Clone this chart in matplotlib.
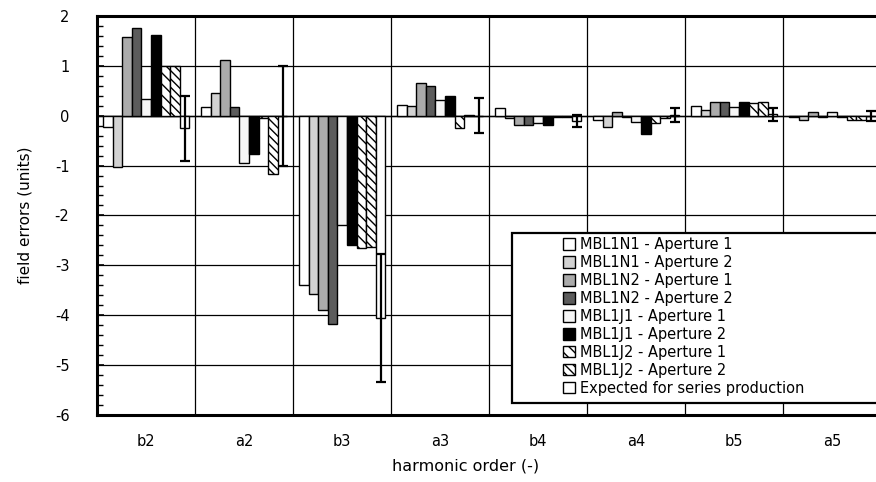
import numpy as np
import matplotlib
matplotlib.use("Agg")
import matplotlib.pyplot as plt
from matplotlib.patches import Rectangle

plt.rcParams['font.family'] = ['DejaVu Sans']
plt.rcParams['axes.unicode_minus'] = False

# harmonic orders on the x axis
orders = ['b2', 'a2', 'b3', 'a3', 'b4', 'a4', 'b5', 'a5']

# measured field errors (units), one list per magnet/aperture
n1_ap1 = [-0.23, 0.17, -3.40, 0.22, 0.16, -0.08, 0.20, -0.03]
n1_ap2 = [-1.03, 0.45, -3.57, 0.20, -0.04, -0.22, 0.12, -0.08]
n2_ap1 = [1.57, 1.12, -3.90, 0.66, -0.18, 0.07, 0.28, 0.07]
n2_ap2 = [1.75, 0.17, -4.17, 0.60, -0.18, -0.03, 0.28, -0.03]
j1_ap1 = [0.33, -0.95, -2.20, 0.32, -0.14, -0.12, 0.17, 0.08]
j1_ap2 = [1.62, -0.77, -2.60, 0.40, -0.18, -0.37, 0.28, -0.03]
j2_ap1 = [1.00, -0.05, -2.65, -0.25, -0.03, -0.15, 0.26, -0.08]
j2_ap2 = [1.00, -1.17, -2.63, 0.02, -0.03, -0.05, 0.27, -0.08]
expected = [-0.25, 0.00, -4.05, 0.00, -0.10, 0.02, 0.03, 0.00]
expected_err = [0.65, 1.00, 1.28, 0.35, 0.12, 0.14, 0.13, 0.10]

labels = ['MBL1N1 - Aperture 1', 'MBL1N1 - Aperture 2',
          'MBL1N2 - Aperture 1', 'MBL1N2 - Aperture 2',
          'MBL1J1 - Aperture 1', 'MBL1J1 - Aperture 2',
          'MBL1J2 - Aperture 1', 'MBL1J2 - Aperture 2',
          'Expected for series production']
series = [n1_ap1, n1_ap2, n2_ap1, n2_ap2, j1_ap1, j1_ap2, j2_ap1, j2_ap2, expected]
# (facecolor, hatch) per series
styles = [('white', None), ('#d2d2d2', None), ('#ababab', None),
          ('#5c5c5c', None), ('#f6f6f6', None), ('black', None),
          ('white', '\\\\\\'), ('white', '\\\\\\\\'), ('white', None)]

fig = plt.figure(figsize=(8.76, 4.82), dpi=100)
ax = fig.add_axes([0.111, 0.139, 0.895, 0.828])

x = np.arange(len(orders))
w = 0.098
handles = []
for i, (vals, (fc, ht)) in enumerate(zip(series, styles)):
    pos = x - 4 * w + i * w
    b = ax.bar(pos, vals, w, color=fc, edgecolor='black', hatch=ht,
               linewidth=1.0, zorder=3, label=labels[i])
    handles.append(b)
    if i == 8:
        ax.errorbar(pos, vals, yerr=expected_err, fmt='none', ecolor='black',
                    elinewidth=1.6, capsize=3.5, capthick=1.6, zorder=4)

ax.set_xlim(-0.5, 7.5)
ax.set_ylim(-6, 2)
ax.set_yticks(range(-6, 3))
ax.set_yticks(np.arange(-6, 2.01, 0.2), minor=True)
ax.set_xticks(x)
ax.set_xticklabels(orders)
ax.set_xticks(np.arange(-0.5, 7.6, 1), minor=True)
ax.grid(axis='y', which='major', color='black', linewidth=0.9, zorder=1)
ax.grid(axis='x', which='minor', color='black', linewidth=0.9, zorder=1)
ax.set_axisbelow(True)
ax.axhline(0, color='black', linewidth=1.0, zorder=2)

ax.tick_params(axis='x', which='both', length=0, labelsize=10.5, pad=14)
ax.tick_params(axis='y', which='major', direction='in', length=5, width=1.2,
               labelsize=10.5, pad=20)
ax.tick_params(axis='y', which='minor', direction='in', length=4, width=1.0)

for s in ['left', 'bottom', 'top']:
    ax.spines[s].set_linewidth(2.2)
ax.spines['right'].set_visible(False)

ax.set_ylabel('field errors (units)', fontsize=11, labelpad=16)
ax.set_xlabel('harmonic order (-)', fontsize=11.5)
ax.xaxis.set_label_coords(0.47, -0.11)

# legend box
fig.patches.append(Rectangle((0.584, 0.164), 0.45, 0.353, transform=fig.transFigure,
                             facecolor='white', edgecolor='black', linewidth=1.6,
                             zorder=1))
fig.legend(handles=handles, loc='upper left', bbox_to_anchor=(0.636, 0.52),
           frameon=False, fontsize=10.5, labelspacing=0.2, handlelength=0.85,
           handleheight=0.85, handletextpad=0.3, borderaxespad=0)

fig.savefig('out.png', dpi=100)
